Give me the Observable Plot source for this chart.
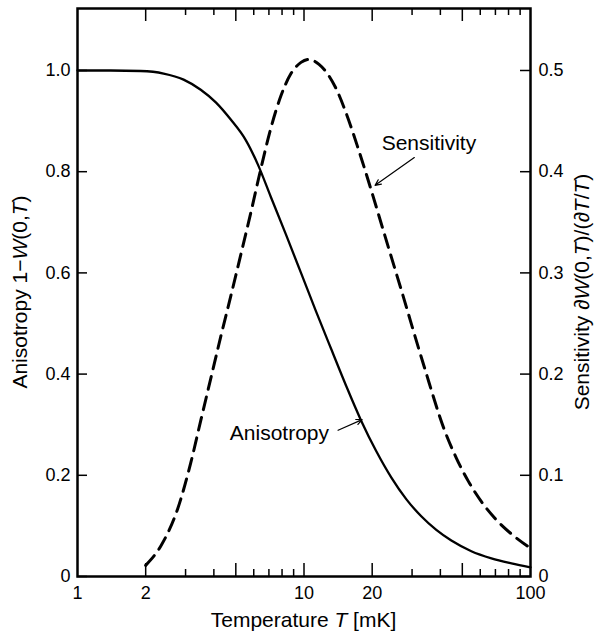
<!DOCTYPE html>
<html>
<head>
<meta charset="utf-8">
<script src="https://cdn.jsdelivr.net/npm/d3@7"></script>
<script src="https://cdn.jsdelivr.net/npm/@observablehq/plot@0.6"></script>
<style>
  html, body { margin: 0; padding: 0; background: white; }
  #chart { width: 594px; height: 632px; }
</style>
</head>
<body>
<div id="chart"></div>
<script>
// ---- data ----
const T_aniso = [1, 1.40, 1.90, 2.40, 2.94, 3.50, 4.08, 4.75, 5.54, 6.26, 7.14, 8.32, 9.70, 11.30, 13.17, 15.34, 17.88, 20.83, 24.27, 28.27, 32.94, 38.38, 44.72, 54.8, 67.2, 82.4, 100];
const anisotropy = [1.0, 1.0, 0.999, 0.994, 0.982, 0.962, 0.937, 0.903, 0.862, 0.814, 0.750, 0.676, 0.600, 0.524, 0.450, 0.377, 0.308, 0.248, 0.196, 0.153, 0.119, 0.092, 0.071, 0.050, 0.036, 0.026, 0.018];

const T_sens = [2.0, 2.33, 2.77, 3.16, 3.50, 3.88, 4.29, 4.75, 5.26, 5.83, 6.45, 7.14, 7.91, 8.76, 9.70, 10.52, 11.65, 12.77, 14.0, 15.34, 17.34, 19.79, 22.6, 26.9, 33.97, 41.65, 47.06, 53.2, 60.7, 69.3, 82.4, 100];
const sensitivity = [0.011, 0.030, 0.067, 0.112, 0.154, 0.196, 0.237, 0.277, 0.318, 0.360, 0.403, 0.443, 0.475, 0.497, 0.508, 0.511, 0.506, 0.496, 0.480, 0.458, 0.423, 0.382, 0.339, 0.283, 0.207, 0.145, 0.117, 0.094, 0.074, 0.058, 0.042, 0.028];

const xTickLabels = [1, 2, 5, 10, 20, 50, 100];
const xTicksMajor = [2, 5, 10, 20, 50];
const xTicksMinor = [3, 4, 6, 7, 8, 9, 30, 40, 60, 70, 80, 90];
const yLeftTicks = [0, 0.2, 0.4, 0.6, 0.8, 1.0];
const yRightTicks = [0, 0.1, 0.2, 0.3, 0.4, 0.5];

const noteLabels = ["Sensitivity", "Anisotropy"];
const noteT = [35.6, 7.79];
const noteV = [0.856, 0.283];
const arrowT1 = [30.7, 14.14];
const arrowV1 = [0.828, 0.289];
const arrowT2 = [20.6, 18.06];
const arrowV2 = [0.773, 0.310];

// ---- tables ----
const anisoData = T_aniso.map((t, i) => ({T: t, v: anisotropy[i]}));
const sensData = T_sens.map((t, i) => ({T: t, s: sensitivity[i]}));
const notes = noteLabels.map((t, i) => ({text: t, T: noteT[i], v: noteV[i]}));
const arrows = arrowT1.map((t, i) => ({T1: t, v1: arrowV1[i], T2: arrowT2[i], v2: arrowV2[i]}));

const W = 594, H = 632;
const mL = 77, mR = 64, mT = 8, mB = 56;
const innerW = W - mL - mR, innerH = H - mT - mB;
const font = "'Liberation Sans', Arial, Helvetica, sans-serif";

const chart = Plot.plot({
  width: W, height: H,
  marginLeft: mL, marginRight: mR, marginTop: mT, marginBottom: mB,
  style: {fontFamily: font, fontSize: "18px", color: "black", background: "white"},
  x: {type: "log", domain: [1, 100], label: null},
  y: {domain: [0, 1.1225], label: null},
  marks: [
    // tick marks (inward)
    Plot.tickX(xTicksMajor, {x: d => d, insetTop: innerH - 13, strokeWidth: 1.5}),
    Plot.tickX(xTicksMinor, {x: d => d, insetTop: innerH - 7, strokeWidth: 1.5}),
    Plot.tickX(xTicksMajor, {x: d => d, insetBottom: innerH - 13, strokeWidth: 1.5}),
    Plot.tickX(xTicksMinor, {x: d => d, insetBottom: innerH - 7, strokeWidth: 1.5}),
    Plot.tickY(yLeftTicks, {y: d => d, insetRight: innerW - 10, strokeWidth: 1.5}),
    Plot.tickY(yRightTicks, {y: d => d * 2, insetLeft: innerW - 10, strokeWidth: 1.5}),
    // axes labels
    Plot.axisX(xTickLabels, {anchor: "bottom", tickSize: 0, tickPadding: 10, tickFormat: d => String(d), label: null, fontSize: 18}),
    Plot.axisY(yLeftTicks, {anchor: "left", tickSize: 0, tickPadding: 7, tickFormat: d => d === 0 ? "0" : d.toFixed(1), label: null, fontSize: 18}),
    Plot.axisY(yRightTicks.map(d => d * 2), {anchor: "right", tickSize: 0, tickPadding: 8, tickFormat: d => d === 0 ? "0" : (d / 2).toFixed(1), label: null, fontSize: 18}),
    // curves
    Plot.line(anisoData, {x: "T", y: "v", stroke: "black", strokeWidth: 2.3, curve: "monotone-x"}),
    Plot.line(sensData, {x: "T", y: d => d.s * 2, stroke: "black", strokeWidth: 3, strokeDasharray: "13,8", curve: "monotone-x"}),
    // annotations
    Plot.arrow(arrows, {x1: "T1", y1: "v1", x2: "T2", y2: "v2", stroke: "black", strokeWidth: 1.2, headLength: 8, headAngle: 50}),
    Plot.text(notes, {x: "T", y: "v", text: "text", fontSize: 21, textAnchor: "middle", lineAnchor: "middle", fill: "black"}),
    Plot.frame({stroke: "black", strokeWidth: 2.5})
  ]
});

document.getElementById("chart").appendChild(chart);

// axis titles with italic parts
const svg = d3.select(chart);
function addTitle(parts, x, y, rotate) {
  const t = svg.append("text")
    .attr("transform", `translate(${x},${y})` + (rotate ? ` rotate(${rotate})` : ""))
    .attr("text-anchor", "middle")
    .attr("font-family", font)
    .attr("font-size", 21)
    .attr("fill", "black");
  parts.forEach(([s, it]) => {
    const ts = t.append("tspan").text(s);
    if (it) ts.attr("font-style", "italic");
  });
}
const cx = mL + innerW / 2, cy = mT + innerH / 2;
addTitle([["Temperature ", false], ["T", true], [" [mK]", false]], cx, 627, 0);
addTitle([["Anisotropy 1\u2212", false], ["W", true], ["(0,", false], ["T", true], [")", false]], 27, cy, -90);
addTitle([["Sensitivity \u2202", false], ["W", true], ["(0,", false], ["T", true], [")/(\u2202", false], ["T", true], ["/", false], ["T", true], [")", false]], 589, cy, -90);
</script>
</body>
</html>
